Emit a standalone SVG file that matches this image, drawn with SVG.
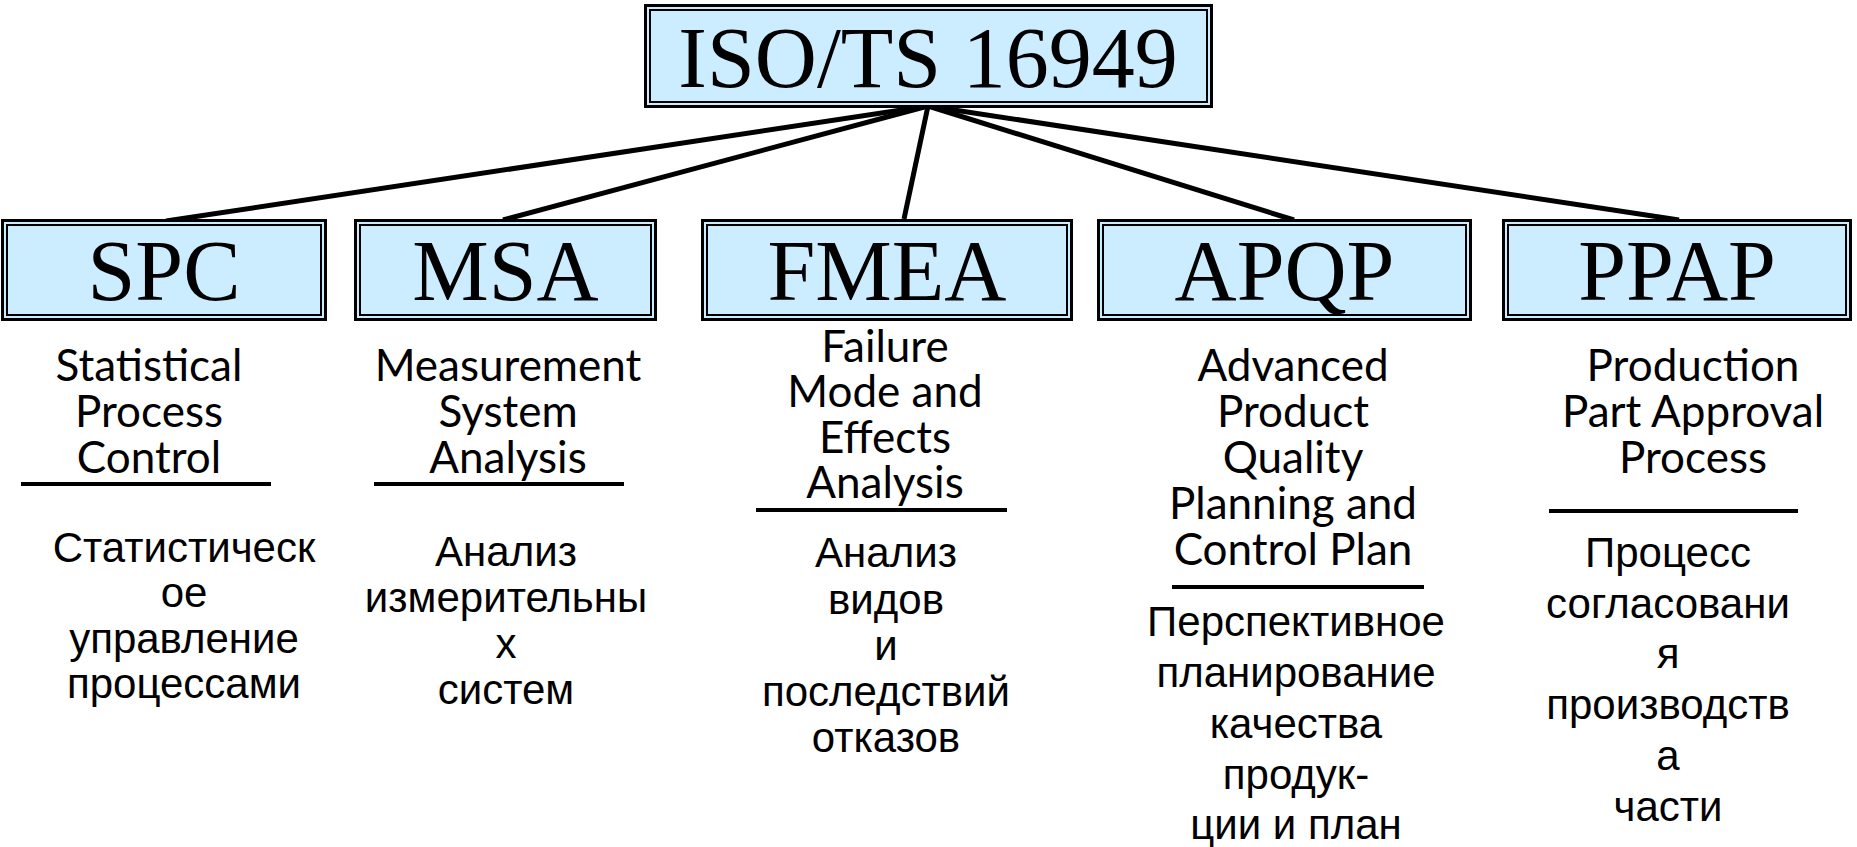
<svg xmlns="http://www.w3.org/2000/svg" width="1857" height="847" viewBox="0 0 1857 847">
<style>
.outer{fill:#CCECFF;stroke:#000;stroke-width:3}
.inner{fill:none;stroke:#000;stroke-width:2}
.ttl{font-family:"Liberation Serif","Times New Roman",serif;fill:#000;text-anchor:middle}
.en{font-family:Lato,"Open Sans",sans-serif;font-size:44px;fill:#000;text-anchor:middle}
.ru{font-family:"Liberation Sans",Arial,sans-serif;font-size:42px;fill:#000;text-anchor:middle}
.ul{stroke:#000;stroke-width:4}
.conn{stroke:#000;stroke-width:5;fill:none;stroke-linecap:butt}
</style>
<rect width="1857" height="847" fill="#fff"/>
<g id="connectors">
<line class="conn" x1="928" y1="106" x2="166" y2="221"/>
<line class="conn" x1="928" y1="106" x2="503" y2="220"/>
<line class="conn" x1="928" y1="106" x2="904" y2="219"/>
<line class="conn" x1="928" y1="106" x2="1294" y2="220"/>
<line class="conn" x1="928" y1="106" x2="1679" y2="220"/>
</g>
<g id="iso">
<rect class="outer" x="645.5" y="5.5" width="566" height="101"/>
<rect class="inner" x="650" y="10" width="557" height="92"/>
<text class="ttl" x="928" y="87" font-size="86">ISO/TS 16949</text>
</g>
<g id="spc">
<rect class="outer" x="2.5" y="220.5" width="323" height="99"/>
<rect class="inner" x="7" y="225" width="314" height="90"/>
<text class="ttl" x="164" y="300" font-size="86">SPC</text>
<text class="en" x="149" y="381">Statistical</text>
<text class="en" x="149" y="427">Process</text>
<text class="en" x="149" y="473">Control</text>
<line class="ul" x1="21" y1="484" x2="271" y2="484"/>
<text class="ru" x="184" y="562">Статистическ</text>
<text class="ru" x="184" y="607">ое</text>
<text class="ru" x="184" y="653">управление</text>
<text class="ru" x="184" y="698">процессами</text>
</g>
<g id="msa">
<rect class="outer" x="355.5" y="220.5" width="300" height="99"/>
<rect class="inner" x="360" y="225" width="291" height="90"/>
<text class="ttl" x="505.5" y="300" font-size="86">MSA</text>
<text class="en" x="508" y="381">Measurement</text>
<text class="en" x="508" y="427">System</text>
<text class="en" x="508" y="473">Analysis</text>
<line class="ul" x1="374" y1="484" x2="624" y2="484"/>
<text class="ru" x="506" y="566">Анализ</text>
<text class="ru" x="506" y="612">измерительны</text>
<text class="ru" x="506" y="658">х</text>
<text class="ru" x="506" y="704">систем</text>
</g>
<g id="fmea">
<rect class="outer" x="702.5" y="220.5" width="369" height="99"/>
<rect class="inner" x="707" y="225" width="360" height="90"/>
<text class="ttl" x="887" y="300" font-size="86">FMEA</text>
<text class="en" x="885" y="362">Failure</text>
<text class="en" x="885" y="407">Mode and</text>
<text class="en" x="885" y="453">Effects</text>
<text class="en" x="885" y="498">Analysis</text>
<line class="ul" x1="756" y1="510" x2="1007" y2="510"/>
<text class="ru" x="886" y="567">Анализ</text>
<text class="ru" x="886" y="614">видов</text>
<text class="ru" x="886" y="660">и</text>
<text class="ru" x="886" y="706">последствий</text>
<text class="ru" x="886" y="752">отказов</text>
</g>
<g id="apqp">
<rect class="outer" x="1098.5" y="220.5" width="372" height="99"/>
<rect class="inner" x="1103" y="225" width="363" height="90"/>
<text class="ttl" x="1284.5" y="300" font-size="86">APQP</text>
<text class="en" x="1293" y="381">Advanced</text>
<text class="en" x="1293" y="427">Product</text>
<text class="en" x="1293" y="473">Quality</text>
<text class="en" x="1293" y="519">Planning and</text>
<text class="en" x="1293" y="565">Control Plan</text>
<line class="ul" x1="1172" y1="587" x2="1424" y2="587"/>
<text class="ru" x="1296" y="636">Перспективное</text>
<text class="ru" x="1296" y="687">планирование</text>
<text class="ru" x="1296" y="738">качества</text>
<text class="ru" x="1296" y="789">продук-</text>
<text class="ru" x="1296" y="839">ции и план</text>
</g>
<g id="ppap">
<rect class="outer" x="1503.5" y="220.5" width="347" height="99"/>
<rect class="inner" x="1508" y="225" width="338" height="90"/>
<text class="ttl" x="1677" y="300" font-size="86">PPAP</text>
<text class="en" x="1693" y="381">Production</text>
<text class="en" x="1693" y="427">Part Approval</text>
<text class="en" x="1693" y="473">Process</text>
<line class="ul" x1="1549" y1="511" x2="1798" y2="511"/>
<text class="ru" x="1668" y="567">Процесс</text>
<text class="ru" x="1668" y="618">согласовани</text>
<text class="ru" x="1668" y="668">я</text>
<text class="ru" x="1668" y="719">производств</text>
<text class="ru" x="1668" y="770">а</text>
<text class="ru" x="1668" y="821">части</text>
</g>
</svg>
